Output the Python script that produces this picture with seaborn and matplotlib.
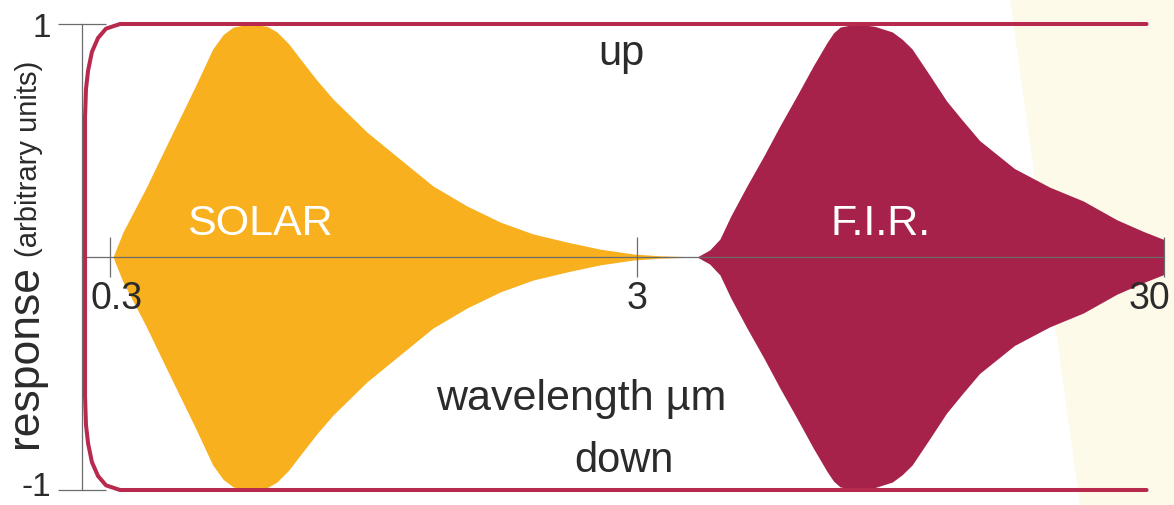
import numpy as np
import seaborn as sns
import matplotlib.pyplot as plt
import matplotlib.transforms as mtransforms
from matplotlib.patches import Polygon

# upper half of each band (the picture is mirrored about zero)
solar_wl = [0.304, 0.3175, 0.35, 0.39, 0.435, 0.47, 0.492, 0.514, 0.553, 0.596,
            0.622, 0.655, 0.689, 0.74, 0.795, 0.922, 1.064, 1.23, 1.427, 1.65,
            1.905, 2.21, 2.55, 2.95, 3.32, 3.95]
solar_resp = [0.0, 0.107, 0.29, 0.51, 0.73, 0.893, 0.955, 0.987, 1.0, 0.99,
              0.966, 0.915, 0.85, 0.76, 0.678, 0.536, 0.421, 0.305, 0.219, 0.15,
              0.099, 0.064, 0.034, 0.013, 0.005, 0.0]

fir_wl = [3.90, 4.12, 4.31, 4.52, 4.85, 5.22, 5.60, 6.03, 6.48, 6.88, 7.08, 7.29,
          7.83, 8.47, 9.15, 9.55, 9.98, 10.8, 11.6, 12.4, 13.4, 15.6, 18.2, 21.1,
          24.4, 27.4, 30.0]
fir_resp = [0.0, 0.03, 0.077, 0.176, 0.305, 0.433, 0.562, 0.691, 0.82, 0.92, 0.962,
            0.987, 1.0, 0.99, 0.966, 0.935, 0.893, 0.777, 0.67, 0.59, 0.5, 0.38,
            0.30, 0.24, 0.16, 0.11, 0.075]

# instrument envelope, upper half from left corner to right end
env_wl = [0.269, 0.2701, 0.2726, 0.2772, 0.2847, 0.2948, 0.3134, 27.8]
env_resp = [0.6, 0.72, 0.8, 0.88, 0.94, 0.98, 1.0, 1.0]

x_ticks = [0.3, 3, 30]
x_ticklabels = ["0.3", "3", "30"]
y_ticks = [-1, 1]
y_ticklabels = ["-1", "1"]

orange = "#F8B01E"
wine = "#A6224A"
env_col = "#B72A4E"
axis_col = "#6b6b6b"
text_col = "#2b2b2b"

sns.set_style("white")
plt.rcParams['font.family'] = ['Liberation Sans', 'DejaVu Sans']

W, H = 1174, 506
fig = plt.figure(figsize=(W / 100, H / 100), dpi=100)
fig.patch.set_facecolor("white")

# faint cream tint on the right edge of the scan
fig.patches.append(Polygon([(1010 / W, 1), (1, 1), (1, 0), (1080 / W, 0)],
                           closed=True, transform=fig.transFigure,
                           facecolor="#FEFAEA", edgecolor="none", zorder=-1))

ax = fig.add_axes([82 / W, 3.35 / H, 1 - 82 / W, 489.3 / H])
ax.set_facecolor("none")
ax.set_axisbelow(False)
ax.set_xscale("log")
ax.set_xlim(0.3 * 10 ** (-28 / 527), 0.3 * 10 ** (1064 / 527))
ax.set_ylim(-1.05, 1.05)

sw = np.array(solar_wl)
sr = np.array(solar_resp)
ax.fill_between(sw, -sr, sr, color=orange, linewidth=0, zorder=1)
fw = np.array(fir_wl)
fr = np.array(fir_resp)
ax.fill_between(fw, -fr, fr, color=wine, linewidth=0, zorder=1)

ew = np.array(env_wl)
er = np.array(env_resp)
env_x = np.concatenate([ew[::-1], ew])
env_y = np.concatenate([er[::-1], -er])
sns.lineplot(x=env_x, y=env_y, sort=False, estimator=None, ax=ax,
             color=env_col, linewidth=2.9, zorder=3)

# axes: left spine plus a wavelength axis through zero
for s in ["top", "right"]:
    ax.spines[s].set_visible(False)
ax.spines["bottom"].set_position(("data", 0))
ax.spines["bottom"].set_bounds(ax.get_xlim()[0], 30)
ax.spines["left"].set_bounds(-1, 1)
for s in ["bottom", "left"]:
    ax.spines[s].set_color(axis_col)
    ax.spines[s].set_linewidth(0.9)
    ax.spines[s].set_zorder(2.5)
ax.xaxis.set_zorder(2.6)
ax.yaxis.set_zorder(2.6)

ax.set_xticks(x_ticks)
ax.set_xticklabels(x_ticklabels)
ax.xaxis.set_minor_locator(plt.NullLocator())
ax.set_yticks(y_ticks)
ax.set_yticklabels(y_ticklabels)
ax.tick_params(axis="x", bottom=True, direction="inout", length=29, width=0.9,
               color=axis_col, pad=2, labelsize=27, labelcolor=text_col)
ax.tick_params(axis="y", left=True, direction="inout", length=34, width=0.9,
               color=axis_col, pad=5, labelsize=24, labelcolor=text_col)
xl = ax.get_xticklabels()
xl[0].set_transform(xl[0].get_transform() +
                    mtransforms.ScaledTranslation(7 / 100, 0, fig.dpi_scale_trans))
xl[-1].set_ha("right")
xl[-1].set_transform(xl[-1].get_transform() +
                     mtransforms.ScaledTranslation(6 / 100, 0, fig.dpi_scale_trans))
yl = ax.get_yticklabels()
yl[0].set_transform(yl[0].get_transform() +
                    mtransforms.ScaledTranslation(0, 7 / 100, fig.dpi_scale_trans))

# labels inside the plot
ax.text(0.578, 23 / 233, "SOLAR", color="white", fontsize=31, ha="center", va="baseline")
ax.text(8.7, 23 / 233, "F.I.R.", color="white", fontsize=31, ha="center", va="baseline")
ax.text(2.8, (258 - 65) / 233, "up", color=text_col, fontsize=30, ha="center", va="baseline")
ax.text(2.35, (258 - 410) / 233, "wavelength \u00b5m", color=text_col, fontsize=31,
        ha="center", va="baseline")
ax.text(2.83, (258 - 472) / 233, "down", color=text_col, fontsize=30, ha="center",
        va="baseline")

# y label in two sizes, sharing one baseline
fig.text(37 / W, 1 - 265 / H, "response", rotation=90, rotation_mode="anchor",
         fontsize=32, color=text_col, ha="right", va="baseline")
fig.text(37 / W, 1 - 257 / H, "(arbitrary units)", rotation=90, rotation_mode="anchor",
         fontsize=21, color=text_col, ha="left", va="baseline")

fig.savefig("out.png", dpi=100, facecolor=fig.get_facecolor())
